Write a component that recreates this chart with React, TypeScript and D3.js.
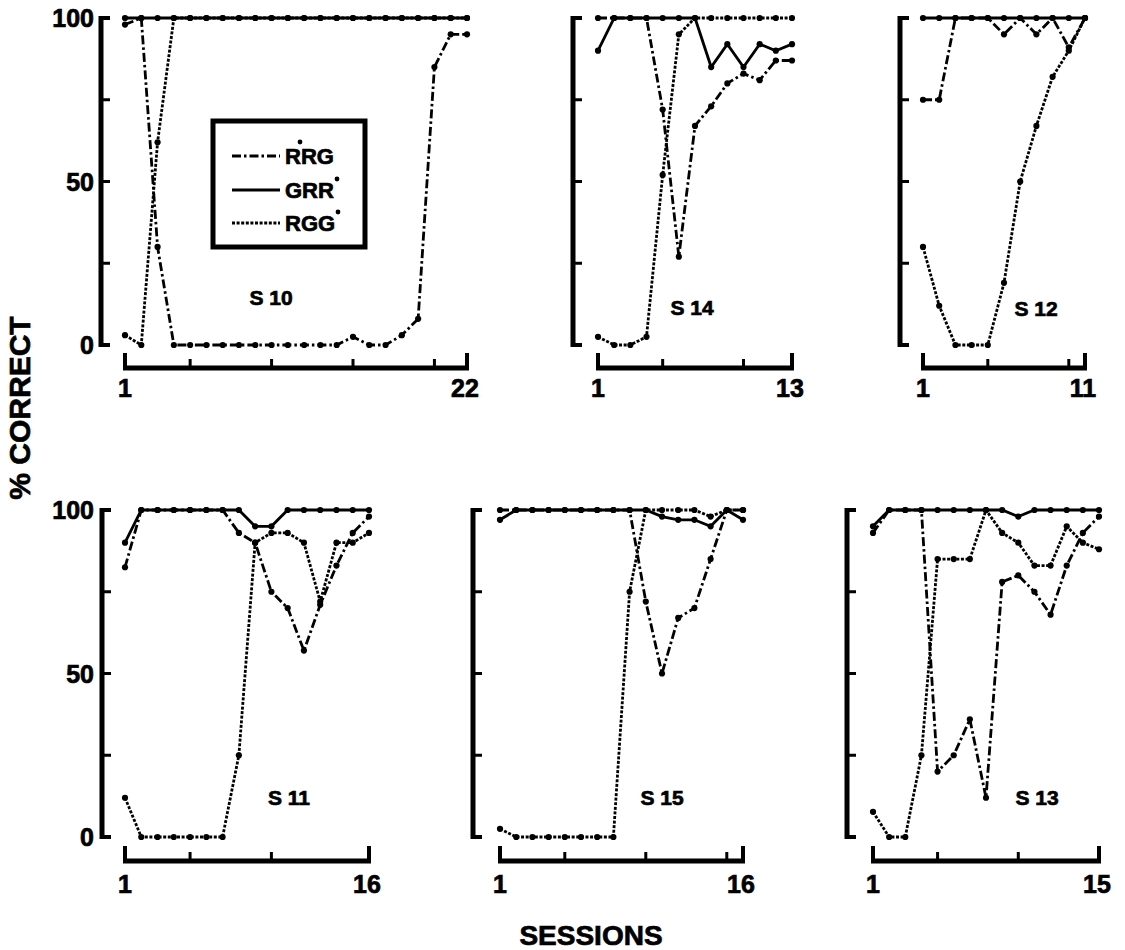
import React from "react";
import * as d3 from "d3";

// ---------- data ----------
const s10RRG = [98, 100, 30, 0, 0, 0, 0, 0, 0, 0, 0, 0, 0, 0, 2.5, 0, 0, 3, 8, 85, 95, 95];
const s10GRR = [100, 100, 100, 100, 100, 100, 100, 100, 100, 100, 100, 100, 100, 100, 100, 100, 100, 100, 100, 100, 100, 100];
const s10RGG = [3, 0, 62, 100, 100, 100, 100, 100, 100, 100, 100, 100, 100, 100, 100, 100, 100, 100, 100, 100, 100, 100];

const s14RRG = [100, 100, 100, 100, 72, 27, 67, 73, 80, 83, 81, 87, 87];
const s14GRR = [90, 100, 100, 100, 100, 100, 100, 85, 92, 85, 92, 90, 92];
const s14RGG = [2.5, 0, 0, 2.5, 52, 95, 100, 100, 100, 100, 100, 100, 100];

const s12RRG = [75, 75, 100, 100, 100, 95, 100, 95, 100, 91, 100];
const s12GRR = [100, 100, 100, 100, 100, 100, 100, 100, 100, 100, 100];
const s12RGG = [30, 12, 0, 0, 0, 19, 50, 67, 82, 90, 100];

const s11RRG = [82.5, 100, 100, 100, 100, 100, 100, 93, 90, 75, 70, 57, 71, 83, 93, 98];
const s11GRR = [90, 100, 100, 100, 100, 100, 100, 100, 95, 95, 100, 100, 100, 100, 100, 100];
const s11RGG = [12, 0, 0, 0, 0, 0, 0, 25, 90, 93, 93, 90, 72, 90, 90, 93];

const s15RRG = [100, 100, 100, 100, 100, 100, 100, 100, 100, 72, 50, 67, 70, 85, 100, 100];
const s15GRR = [97, 100, 100, 100, 100, 100, 100, 100, 100, 100, 98, 97, 97, 95, 100, 97];
const s15RGG = [2.5, 0, 0, 0, 0, 0, 0, 0, 75, 100, 100, 100, 100, 98, 100, 100];

const s13RRG = [93, 100, 100, 100, 20, 25, 36, 12, 78, 80, 75, 68, 83, 93, 98];
const s13GRR = [95, 100, 100, 100, 100, 100, 100, 100, 100, 98, 100, 100, 100, 100, 100];
const s13RGG = [7.7, 0, 0, 25, 85, 85, 85, 100, 93, 90, 83, 83, 95, 90, 88];

const yTickValues = [0, 25, 50, 75, 100];
const yTickLabels = ["0", "50", "100"];
const seriesNames = ["RGG", "RRG", "GRR"];

// ---------- layout / style ----------
const FONT = "'Liberation Sans', Arial, sans-serif";
const rows = [
  { top: 18, bottom: 345, axisY: 368, labelY: 397 },
  { top: 510, bottom: 837, axisY: 861, labelY: 893 },
];
const dash: Record<string, string | undefined> = {
  RRG: "9,3,2.5,3",
  GRR: undefined,
  RGG: "3,1.6",
};

const panels = [
  { name: "S 10", series: { RRG: s10RRG, GRR: s10GRR, RGG: s10RGG }, ticks: [5, 10, 15, 20], x0: 125, x1: 467, bx: 101, row: 0, lx: 271, ly: 297, left: true },
  { name: "S 14", series: { RRG: s14RRG, GRR: s14GRR, RGG: s14RGG }, ticks: [5, 10], x0: 598, x1: 792, bx: 573, row: 0, lx: 692, ly: 307, left: false },
  { name: "S 12", series: { RRG: s12RRG, GRR: s12GRR, RGG: s12RGG }, ticks: [5, 10], x0: 923, x1: 1085, bx: 900, row: 0, lx: 1036, ly: 308, left: false },
  { name: "S 11", series: { RRG: s11RRG, GRR: s11GRR, RGG: s11RGG }, ticks: [5, 10], x0: 125, x1: 369, bx: 102, row: 1, lx: 289, ly: 797, left: true },
  { name: "S 15", series: { RRG: s15RRG, GRR: s15GRR, RGG: s15RGG }, ticks: [5, 10, 15], x0: 500, x1: 743, bx: 473, row: 1, lx: 662, ly: 797, left: false },
  { name: "S 13", series: { RRG: s13RRG, GRR: s13GRR, RGG: s13RGG }, ticks: [5, 10], x0: 873, x1: 1099, bx: 847, row: 1, lx: 1037, ly: 797, left: false },
];

const txt = { fontFamily: FONT, fontWeight: "bold" as const, stroke: "#000", strokeWidth: 0.7 };

function Panel({ p }: { p: (typeof panels)[number] }) {
  const r = rows[p.row];
  const n = (p.series as any).RRG.length;
  const x = d3.scaleLinear().domain([1, n]).range([p.x0, p.x1]);
  const y = d3.scaleLinear().domain([0, 100]).range([r.bottom, r.top]);
  const line = d3
    .line<number>()
    .x((_, i) => x(i + 1))
    .y((v) => y(v));
  return (
    <g>
      {/* y bracket */}
      <line x1={p.bx} x2={p.bx} y1={y(100) - 2} y2={y(0) + 2} stroke="#000" strokeWidth={5} />
      {yTickValues.map((t) => (
        <line key={t} x1={p.bx} x2={p.bx + 9} y1={y(t)} y2={y(t)} stroke="#000" strokeWidth={t === 0 || t === 100 ? 4 : 3} />
      ))}
      {p.left &&
        yTickLabels.map((lab) => (
          <text key={lab} x={94} y={y(+lab) + 9} textAnchor="end" fontSize={25} {...txt}>
            {lab}
          </text>
        ))}
      {/* x axis */}
      <line x1={x(1) - 2} x2={x(n) + 2} y1={r.axisY} y2={r.axisY} stroke="#000" strokeWidth={5} />
      {[1, n].map((t) => (
        <line key={"e" + t} x1={x(t)} x2={x(t)} y1={r.axisY} y2={r.axisY - 15} stroke="#000" strokeWidth={4} />
      ))}
      {p.ticks.map((t) => (
        <line key={"t" + t} x1={x(t)} x2={x(t)} y1={r.axisY} y2={r.axisY - 9} stroke="#000" strokeWidth={3} />
      ))}
      {[1, n].map((t) => (
        <text key={"l" + t} x={x(t) + (t === 1 ? 0 : -2)} y={r.labelY} textAnchor="middle" fontSize={25} {...txt}>
          {t}
        </text>
      ))}
      {/* series */}
      {seriesNames.map((s) => {
        const vals = (p.series as any)[s] as number[];
        return (
          <g key={s}>
            <path d={line(vals) || ""} fill="none" stroke="#000" strokeWidth={2.8} strokeDasharray={dash[s]} />
            {vals.map((v, i) => (
              <circle key={i} cx={x(i + 1)} cy={y(v)} r={3.1} fill="#000" />
            ))}
          </g>
        );
      })}
      <text x={p.lx} y={p.ly + 8} textAnchor="middle" fontSize={21} {...txt}>
        {p.name}
      </text>
    </g>
  );
}

function Legend() {
  const items = [
    { s: "RRG", y: 156, dot: [300, 142] },
    { s: "GRR", y: 190, dot: [337, 179] },
    { s: "RGG", y: 223, dot: [338, 212] },
  ];
  return (
    <g>
      <rect x={213} y={121} width={152} height={126} fill="#fff" stroke="#000" strokeWidth={5} />
      {items.map((it) => (
        <g key={it.s}>
          <line x1={232} x2={280} y1={it.y} y2={it.y} stroke="#000" strokeWidth={2.8} strokeDasharray={dash[it.s]} />
          <text x={285} y={it.y + 8} fontSize={22} {...txt}>
            {it.s}
          </text>
          <circle cx={it.dot[0]} cy={it.dot[1]} r={2.4} fill="#000" />
        </g>
      ))}
    </g>
  );
}

export default function App() {
  return (
    <svg width={1125} height={950} style={{ position: "absolute", left: 0, top: 0, background: "#fff" }}>
      <rect width={1125} height={950} fill="#fff" />
      {panels.map((p) => (
        <Panel key={p.name} p={p} />
      ))}
      <Legend />
      <text transform="translate(30,408) rotate(-90)" textAnchor="middle" fontSize={30} {...txt}>
        % CORRECT
      </text>
      <text x={591} y={945} textAnchor="middle" fontSize={28} {...txt}>
        SESSIONS
      </text>
    </svg>
  );
}
